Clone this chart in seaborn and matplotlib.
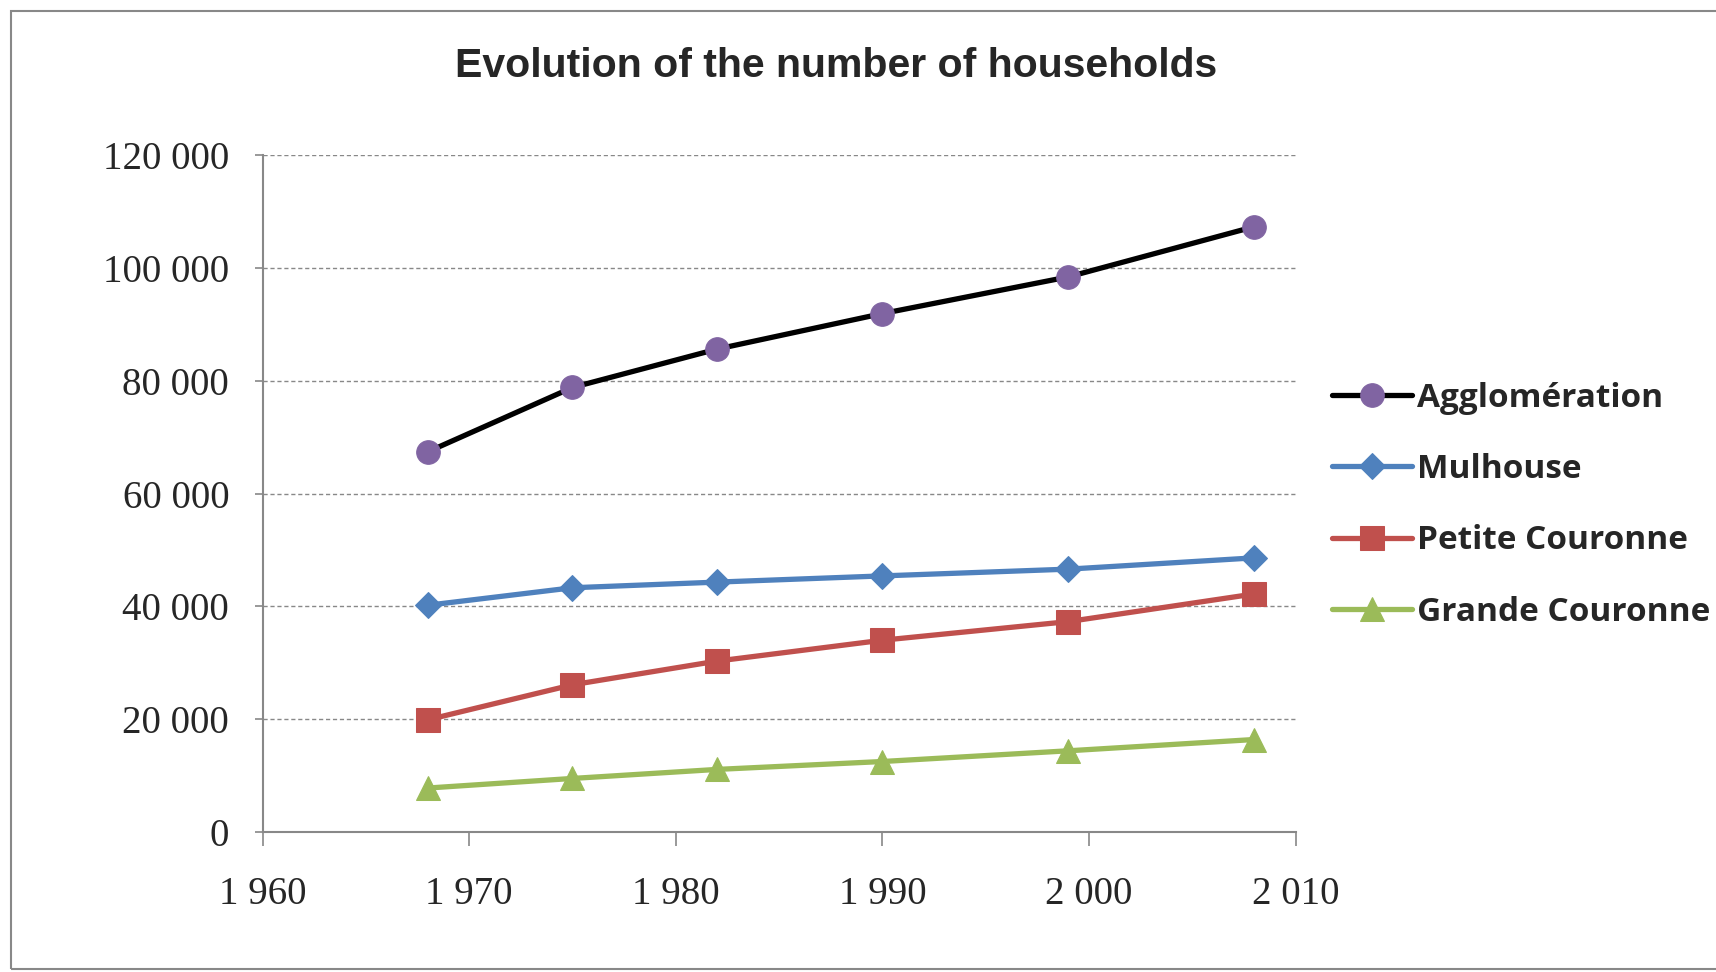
import matplotlib
matplotlib.use("Agg")
import matplotlib.pyplot as plt
import matplotlib.patches as patches
from matplotlib.ticker import FuncFormatter, MultipleLocator
import seaborn as sns

# Data
years = [1968, 1975, 1982, 1990, 1999, 2008]
agglomeration = [67400, 78800, 85600, 91900, 98400, 107300]
mulhouse = [40200, 43300, 44300, 45400, 46600, 48600]
petite_couronne = [19900, 26100, 30300, 34000, 37300, 42200]
grande_couronne = [7800, 9500, 11100, 12500, 14400, 16400]

series_names = ["Agglomération", "Mulhouse", "Petite Couronne", "Grande Couronne"]
series_values = [agglomeration, mulhouse, petite_couronne, grande_couronne]
line_colors = ["#000000", "#4F81BD", "#C0504D", "#9BBB59"]
face_colors = ["#8064A2", "#4F81BD", "#C0504D", "#9BBB59"]
markers = ["o", "D", "s", "^"]
marker_sizes = [17, 13, 17, 17]

sns.set_style("white")
plt.rcParams["font.family"] = ["Liberation Serif", "DejaVu Sans"]

fig = plt.figure(figsize=(17.16, 9.72), dpi=100)
ax = fig.add_axes([0.153, 0.144, 0.602, 0.6965])

for name, vals, lc, fc, m, ms in zip(series_names, series_values, line_colors,
                                     face_colors, markers, marker_sizes):
    sns.lineplot(x=years, y=vals, ax=ax, color=lc, linewidth=3.8, marker=m,
                 markersize=ms, markerfacecolor=fc, markeredgecolor=fc,
                 label=name)

ax.set_xlim(1960, 2010)
ax.set_ylim(0, 120000)
ax.xaxis.set_major_locator(MultipleLocator(10))
ax.yaxis.set_major_locator(MultipleLocator(20000))
fmt = FuncFormatter(lambda v, p: "{:,.0f}".format(v).replace(",", " "))
ax.xaxis.set_major_formatter(fmt)
ax.yaxis.set_major_formatter(fmt)

ax.grid(axis="y", color="#888888", linestyle=(0, (3, 2)), linewidth=1.0)
ax.set_axisbelow(True)
for s in ["top", "right"]:
    ax.spines[s].set_visible(False)
for s in ["left", "bottom"]:
    ax.spines[s].set_color("#888888")
    ax.spines[s].set_linewidth(1.5)

ax.tick_params(axis="x", direction="out", length=10, width=1.2, color="#888888",
               pad=22, labelsize=28, bottom=True)
ax.tick_params(axis="y", direction="out", length=6, width=1.2, color="#888888",
               pad=18, labelsize=28, left=True)

fig.text(0.487, 0.932, "Evolution of the number of households", ha="center",
         va="center", fontsize=29.5, fontweight="bold", family="Liberation Sans")

ax.legend(loc="center left", bbox_to_anchor=(1.022, 0.483), frameon=False,
          prop={"family": "Open Sans", "weight": "bold", "size": 24},
          handlelength=2.4, handletextpad=0.15, labelspacing=1.15,
          borderaxespad=0)

fig.patches.append(patches.Rectangle((11 / 1716, 3 / 972), 1.0, 1 - 14 / 972,
                                     transform=fig.transFigure, fill=False,
                                     edgecolor="#888888", linewidth=1.5))

fig.savefig("out.png", dpi=100)
